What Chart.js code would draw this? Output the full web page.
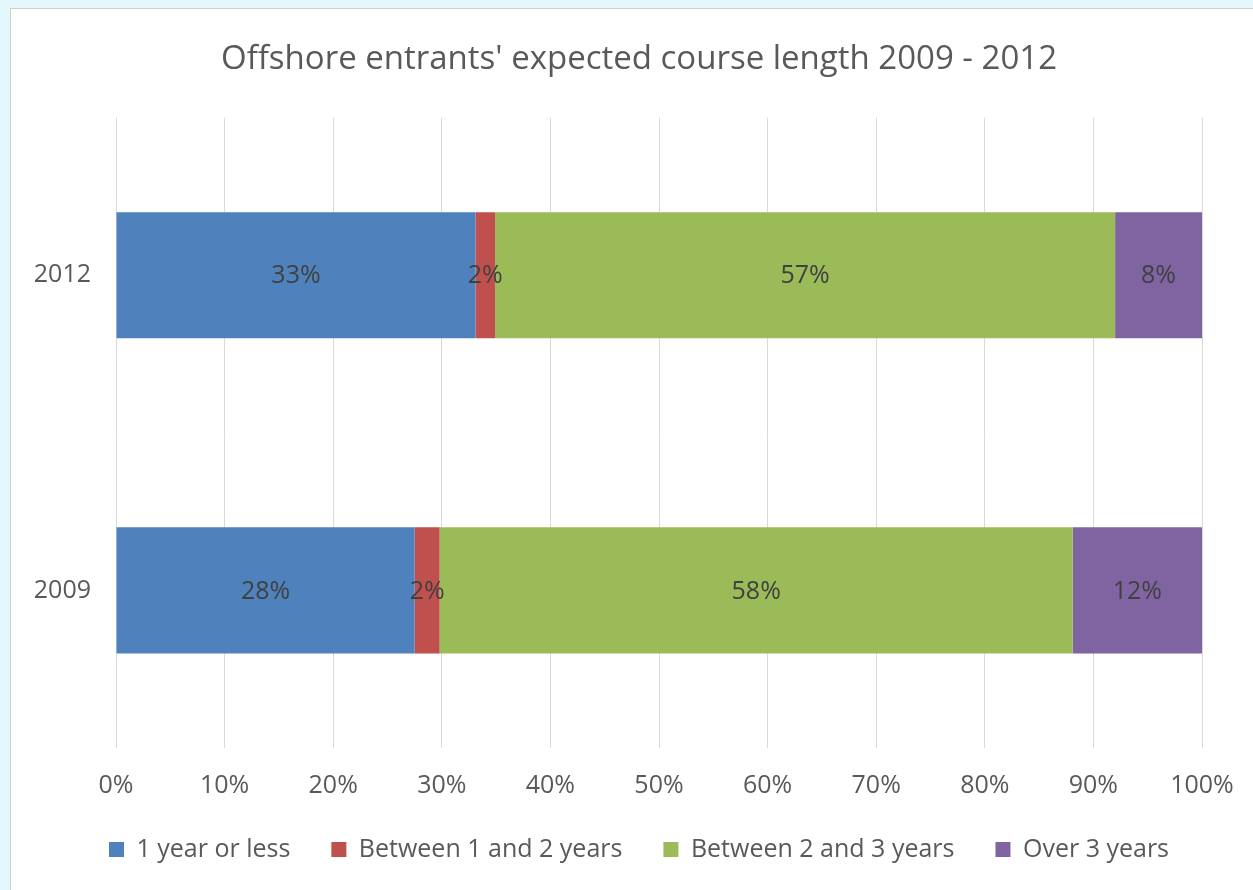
<!DOCTYPE html>
<html>
<head>
<meta charset="utf-8">
<script src="https://cdn.jsdelivr.net/npm/chart.js@4"></script>
<style>
  html, body { margin: 0; padding: 0; background: #e4f7fb; overflow: hidden; }
  #frame {
    position: absolute; left: 10px; top: 8px; width: 1243px; height: 882px;
    background: #fff; border-left: 1px solid #d0d0d0; border-top: 1px solid #d0d0d0;
    overflow: hidden;
  }
  #chart { display: block; }
</style>
</head>
<body>
<div id="frame"><canvas id="chart" width="1242" height="881"></canvas></div>
<script>
// values (percent of entrants)
const years = ['2012', '2009'];
const seriesNames = ['1 year or less', 'Between 1 and 2 years', 'Between 2 and 3 years', 'Over 3 years'];
const oneYearOrLess = [33.1, 27.5];
const oneToTwo = [1.8, 2.3];
const twoToThree = [57.1, 58.3];
const overThree = [8.0, 11.9];
const xTicks = [0, 10, 20, 30, 40, 50, 60, 70, 80, 90, 100];

const colors = ['#4f81bd', '#c0504d', '#9bbb59', '#8064a2'];
const fontFamily = "'Open Sans', 'Liberation Sans', sans-serif";

//labels in the middle of each bar piece
const barLabels = {
    id: 'barLabels',
    afterDatasetsDraw(chart) {
        const ctx = chart.ctx;
        ctx.save();
        ctx.font = `25px ${fontFamily}`;
        ctx.fillStyle = '#404040';
        ctx.textAlign = 'center';
        ctx.textBaseline = 'middle';
        chart.data.datasets.forEach((ds, i) => {
            chart.getDatasetMeta(i).data.forEach((bar, j) => {
                const p = bar.getCenterPoint();
                ctx.fillText(Math.round(ds.data[j]) + '%', p.x, p.y + 1);
            });
        });
        ctx.restore();
    }
};

const allSeries = [oneYearOrLess, oneToTwo, twoToThree, overThree];

const data = {
    labels: years,
    datasets: allSeries.map((values, i) => ({
        label: seriesNames[i],
        data: values,
        backgroundColor: colors[i],
        borderWidth: 0,
        categoryPercentage: 0.8,
        barPercentage: 0.5
    }))
};

const config = {
    type: 'bar',
    data,
    options: {
        indexAxis: 'y',
        responsive: false,
        animation: false,
        layout: { padding: { top: 0, right: 0, bottom: 18, left: 14 } },
        plugins: {
            title: {
                display: true,
                text: "Offshore entrants' expected course length 2009 - 2012",
                color: '#595959',
                font: { family: fontFamily, size: 33, weight: 'normal' },
                padding: { top: 31, bottom: 38 }
            },
            legend: {
                position: 'bottom',
                labels: {
                    color: '#595959',
                    font: { family: fontFamily, size: 25 },
                    boxWidth: 15,
                    boxHeight: 15,
                    padding: 41
                }
            },
            tooltip: { enabled: false }
        },
        scales: {
            x: {
                stacked: true,
                min: 0,
                max: 100,
                afterBuildTicks: scale => { scale.ticks = xTicks.map(v => ({ value: v })); },
                afterFit: scale => {
                    scale.height = 48;
                    scale.paddingLeft = 0;
                    scale.paddingRight = 0;
                },
                grid: { color: '#d9d9d9', drawTicks: false },
                border: { display: false },
                ticks: {
                    color: '#595959',
                    font: { family: fontFamily, size: 25 },
                    padding: 23,
                    callback: v => v + '%'
                }
            },
            y: {
                stacked: true,
                afterFit: scale => { scale.width = 91; },
                grid: { display: false },
                border: { display: false },
                ticks: {
                    color: '#595959',
                    font: { family: fontFamily, size: 25 },
                    padding: 17
                }
            },
            // empty space on the right of the plot
            yRight: {
                type: 'linear',
                position: 'right',
                afterFit: scale => { scale.width = 51; },
                grid: { display: false },
                border: { display: false },
                ticks: { display: false }
            }
        }
    },
    plugins: [barLabels]
};

let chart = new Chart(document.getElementById('chart'), config);
</script>
</body>
</html>
